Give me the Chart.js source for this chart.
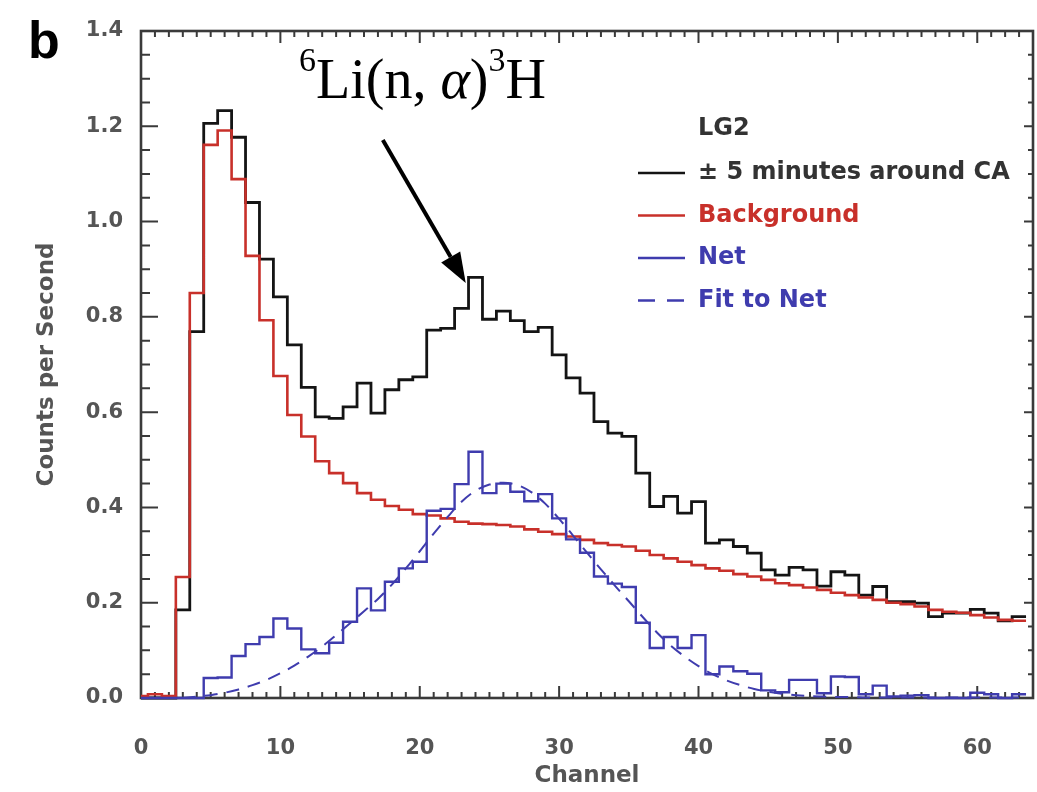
<!DOCTYPE html>
<html>
<head>
<meta charset="utf-8">
<script src="https://cdn.jsdelivr.net/npm/chart.js@4.4.1/dist/chart.umd.min.js"></script>
<style>
  html, body { margin: 0; padding: 0; background: #fff; }
  #wrap { width: 1037px; height: 792px; }
</style>
</head>
<body>
<div id="wrap"><canvas id="spectrum" width="1037" height="792"></canvas></div>
<script>
// LG2 pulse-height spectrum, one value per channel
const channels = [
   0,  1,  2,  3,  4,  5,  6,  7,  8,  9, 10, 11, 12, 13, 14, 15,
  16, 17, 18, 19, 20, 21, 22, 23, 24, 25, 26, 27, 28, 29, 30, 31,
  32, 33, 34, 35, 36, 37, 38, 39, 40, 41, 42, 43, 44, 45, 46, 47,
  48, 49, 50, 51, 52, 53, 54, 55, 56, 57, 58, 59, 60, 61, 62, 63
];

// ± 5 minutes around closest approach
const aroundCA = [
  0.000, 0.000, 0.000, 0.185, 0.769, 1.206, 1.233, 1.177, 1.040, 0.921, 0.842, 0.741, 0.652, 0.590, 0.587, 0.611,
  0.661, 0.598, 0.647, 0.668, 0.674, 0.772, 0.776, 0.818, 0.883, 0.795, 0.812, 0.792, 0.769, 0.778, 0.720, 0.672,
  0.640, 0.580, 0.556, 0.549, 0.472, 0.402, 0.423, 0.388, 0.412, 0.325, 0.332, 0.318, 0.304, 0.269, 0.258, 0.274,
  0.269, 0.235, 0.265, 0.258, 0.216, 0.234, 0.202, 0.202, 0.199, 0.171, 0.178, 0.178, 0.186, 0.178, 0.162, 0.171
];

const background = [
  0.004, 0.008, 0.004, 0.254, 0.850, 1.161, 1.191, 1.089, 0.928, 0.793, 0.676, 0.594, 0.549, 0.497, 0.472, 0.451,
  0.430, 0.416, 0.403, 0.395, 0.386, 0.383, 0.377, 0.370, 0.366, 0.365, 0.363, 0.360, 0.354, 0.349, 0.344, 0.339,
  0.332, 0.325, 0.321, 0.318, 0.309, 0.300, 0.293, 0.286, 0.279, 0.272, 0.267, 0.260, 0.255, 0.248, 0.241, 0.237,
  0.232, 0.227, 0.221, 0.216, 0.211, 0.206, 0.200, 0.197, 0.192, 0.185, 0.181, 0.179, 0.174, 0.169, 0.164, 0.162
];

const net = [
  0.000, 0.000, 0.000, 0.000, 0.000, 0.042, 0.043, 0.088, 0.113, 0.128, 0.167, 0.146, 0.102, 0.094, 0.116, 0.160,
  0.230, 0.184, 0.244, 0.272, 0.286, 0.393, 0.397, 0.449, 0.517, 0.430, 0.450, 0.433, 0.413, 0.428, 0.377, 0.333,
  0.305, 0.255, 0.240, 0.233, 0.158, 0.105, 0.128, 0.105, 0.132, 0.050, 0.066, 0.056, 0.051, 0.016, 0.012, 0.038,
  0.038, 0.010, 0.045, 0.044, 0.008, 0.026, 0.003, 0.005, 0.006, 0.000, 0.000, 0.000, 0.011, 0.008, 0.000, 0.008
];

// fitted peak, sampled at channels 3..63
const fitChannels = channels.slice(3);
const fitToNet = [
  0.000, 0.003, 0.006, 0.011, 0.018, 0.027, 0.038, 0.052, 0.068, 0.087, 0.108, 0.132, 0.157,
  0.182, 0.208, 0.238, 0.272, 0.308, 0.345, 0.380, 0.412, 0.435, 0.448, 0.452, 0.447, 0.432, 0.408, 0.376, 0.341,
  0.305, 0.270, 0.236, 0.203, 0.170, 0.138, 0.110, 0.087, 0.067, 0.050, 0.037, 0.027, 0.019, 0.013, 0.009, 0.006,
  0.004, 0.003, 0.002, 0.002, 0.001, 0.001, 0.001, 0.001, 0.001, 0.001, 0.001, 0.001, 0.001, 0.001, 0.001, 0.001
];

const xTicks = [0, 10, 20, 30, 40, 50, 60];
const yTicks = [0.0, 0.2, 0.4, 0.6, 0.8, 1.0, 1.2, 1.4];

const BLACK = '#141414';
const RED = '#c8302a';
const BLUE = '#3f3cae';
const AXIS_GREY = '#555';
const FONT = 'DejaVu Sans';

// histogram outline: each bin runs from ch-0.5 to ch+0.5
function binEdges(values) {
  const pts = channels.map((c, i) => ({ x: c - 0.5, y: values[i] }));
  const last = channels.length - 1;
  pts.push({ x: channels[last] + 0.5, y: values[last] });
  return pts;
}

// the arrow pointing at the capture peak, in data units
const arrowTail = { x: 17.35, y: 1.171 };
const arrowTip = { x: 23.3, y: 0.871 };

const frameAndNotes = {
  id: 'frameAndNotes',
  beforeDatasetsDraw(chart) {
    const { ctx, chartArea: a, scales: { x, y } } = chart;
    ctx.save();
    ctx.strokeStyle = '#3a3a3a';
    ctx.lineWidth = 2;
    // channel ticks, top and bottom, pointing inward
    for (let c = 0; c <= 64; c++) {
      const px = x.getPixelForValue(c);
      const len = c % 10 === 0 ? 12 : 6;
      ctx.beginPath();
      ctx.moveTo(px, a.bottom); ctx.lineTo(px, a.bottom - len);
      ctx.moveTo(px, a.top); ctx.lineTo(px, a.top + len);
      ctx.stroke();
    }
    // count-rate ticks every 0.05, left and right
    for (let k = 0; k <= 28; k++) {
      const py = y.getPixelForValue(k * 0.05);
      const major = k % 4 === 0;
      ctx.beginPath();
      ctx.moveTo(a.left, py); ctx.lineTo(a.left + (major ? 17 : 9), py);
      ctx.moveTo(a.right, py); ctx.lineTo(a.right - (major ? 9 : 5), py);
      ctx.stroke();
    }
    ctx.lineWidth = 2.6;
    ctx.strokeRect(a.left, a.top, a.right - a.left, a.bottom - a.top);
    ctx.restore();
  },
  afterDraw(chart) {
    const { ctx, scales: { x, y } } = chart;
    ctx.save();

    // panel letter
    ctx.fillStyle = '#000';
    ctx.font = `bold 52px "Liberation Sans"`;
    ctx.textBaseline = 'alphabetic';
    ctx.fillText('b', 28, 58);

    // reaction label with superscripts
    let tx = 299;
    const base = 98;
    const put = (txt, font, dy) => {
      ctx.font = font;
      ctx.fillText(txt, tx, base + dy);
      tx += ctx.measureText(txt).width;
    };
    put('6', '34px "Liberation Serif"', -27);
    put('Li(n, ', '56px "Liberation Serif"', 0);
    put('\u03B1', 'italic 56px "Liberation Serif"', 0);
    put(')', '56px "Liberation Serif"', 0);
    put('3', '34px "Liberation Serif"', -27);
    put('H', '56px "Liberation Serif"', 0);

    // arrow
    const x0 = x.getPixelForValue(arrowTail.x), y0 = y.getPixelForValue(arrowTail.y);
    const x1 = x.getPixelForValue(arrowTip.x), y1 = y.getPixelForValue(arrowTip.y);
    const ang = Math.atan2(y1 - y0, x1 - x0);
    const headLen = 30, headHalf = 11;
    const bx = x1 - headLen * Math.cos(ang), by = y1 - headLen * Math.sin(ang);
    ctx.strokeStyle = '#000';
    ctx.lineWidth = 4;
    ctx.beginPath(); ctx.moveTo(x0, y0); ctx.lineTo(bx, by); ctx.stroke();
    ctx.beginPath();
    ctx.moveTo(x1, y1);
    ctx.lineTo(bx + headHalf * Math.sin(ang), by - headHalf * Math.cos(ang));
    ctx.lineTo(bx - headHalf * Math.sin(ang), by + headHalf * Math.cos(ang));
    ctx.closePath(); ctx.fill();

    // legend
    const items = [
      { label: '\u00B1 5 minutes around CA', color: BLACK, text: '#333', dash: [] },
      { label: 'Background', color: RED, text: RED, dash: [] },
      { label: 'Net', color: BLUE, text: BLUE, dash: [] },
      { label: 'Fit to Net', color: BLUE, text: BLUE, dash: [17, 12] }
    ];
    ctx.textBaseline = 'middle';
    ctx.font = `bold 24px "${FONT}"`;
    ctx.fillStyle = '#333';
    ctx.fillText('LG2', 698, 129);
    items.forEach((it, i) => {
      const ly = 173 + i * 42.5;
      ctx.strokeStyle = it.color;
      ctx.lineWidth = 2.4;
      ctx.setLineDash(it.dash);
      ctx.beginPath(); ctx.moveTo(638, ly); ctx.lineTo(685, ly); ctx.stroke();
      ctx.setLineDash([]);
      ctx.fillStyle = it.text;
      ctx.fillText(it.label, 698, ly);
    });
    ctx.restore();
  }
};

const histClip = { left: 0, top: 6, right: 6, bottom: 6 };

new Chart(document.getElementById('spectrum'), {
  type: 'line',
  data: {
    datasets: [
      {
        label: 'Fit to Net',
        data: fitChannels.map((c, i) => ({ x: c, y: fitToNet[i] })),
        borderColor: BLUE, borderWidth: 2, borderDash: [13, 9],
        tension: 0.4, cubicInterpolationMode: 'monotone',
        pointRadius: 0, order: 1, clip: histClip
      },
      {
        label: 'Net',
        data: binEdges(net),
        borderColor: BLUE, borderWidth: 2.4, stepped: 'before',
        pointRadius: 0, order: 2, clip: histClip
      },
      {
        label: 'Background',
        data: binEdges(background),
        borderColor: RED, borderWidth: 2.6, stepped: 'before',
        pointRadius: 0, order: 3, clip: histClip
      },
      {
        label: '\u00B1 5 minutes around CA',
        data: binEdges(aroundCA),
        borderColor: BLACK, borderWidth: 2.8, stepped: 'before',
        pointRadius: 0, order: 4, clip: histClip
      }
    ]
  },
  options: {
    responsive: false,
    devicePixelRatio: 1,
    animation: false,
    layout: { padding: { top: 31, right: 4, left: 0, bottom: 0 } },
    plugins: { legend: { display: false }, tooltip: { enabled: false } },
    scales: {
      x: {
        type: 'linear', min: 0, max: 64,
        grid: { display: false }, border: { display: false },
        afterFit: s => { s.height = 94; },
        afterBuildTicks: s => { s.ticks = xTicks.map(v => ({ value: v })); },
        ticks: {
          padding: 30, color: AXIS_GREY,
          font: { family: FONT, weight: 'bold', size: 21 },
          callback: v => String(v)
        },
        title: {
          display: true, text: 'Channel', color: AXIS_GREY,
          font: { family: FONT, weight: 'bold', size: 23 },
          padding: { top: 0, bottom: 2 }
        }
      },
      y: {
        type: 'linear', min: 0, max: 1.4,
        grid: { display: false }, border: { display: false },
        afterFit: s => { s.width = 141; },
        afterBuildTicks: s => { s.ticks = yTicks.map(v => ({ value: v })); },
        ticks: {
          padding: 10, color: AXIS_GREY,
          font: { family: FONT, weight: 'bold', size: 21 },
          callback: v => v.toFixed(1)
        },
        title: {
          display: true, text: 'Counts per Second', color: AXIS_GREY,
          font: { family: FONT, weight: 'bold', size: 23 },
          padding: { top: 33, bottom: 0 }
        }
      }
    }
  },
  plugins: [frameAndNotes]
});
</script>
</body>
</html>
